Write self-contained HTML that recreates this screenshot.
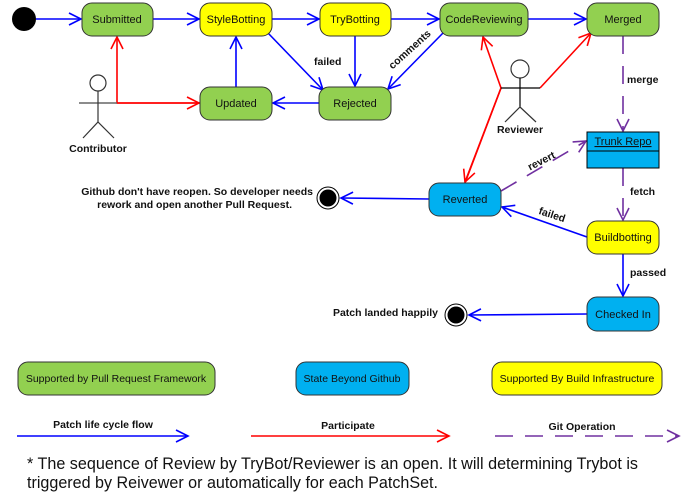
<!DOCTYPE html>
<html><head><meta charset="utf-8"><style>
body{margin:0;background:#fff;}
svg{display:block;font-family:"Liberation Sans",sans-serif;}
.b{fill:none;stroke:#00f;stroke-width:1.6}
.r{fill:none;stroke:#f00;stroke-width:1.6}
.p{fill:none;stroke:#7030a0;stroke-width:1.6;stroke-dasharray:18,12}
.st{stroke:#333;stroke-width:1}
.t{font-size:11px;text-anchor:middle;fill:#111}
.l{font-size:10.5px;font-weight:bold;fill:#111}
</style></head><body>
<svg width="691" height="500" viewBox="0 0 691 500">
<defs>
<marker id="ab" markerWidth="16" markerHeight="16" refX="13" refY="7" orient="auto" markerUnits="userSpaceOnUse"><path d="M1,1 L13,7 L1,13" fill="none" stroke="#00f" stroke-width="1.6"/></marker>
<marker id="ar" markerWidth="16" markerHeight="16" refX="13" refY="7" orient="auto" markerUnits="userSpaceOnUse"><path d="M1,1 L13,7 L1,13" fill="none" stroke="#f00" stroke-width="1.6"/></marker>
<marker id="ap" markerWidth="16" markerHeight="16" refX="13" refY="7" orient="auto" markerUnits="userSpaceOnUse"><path d="M1,1 L13,7 L1,13" fill="none" stroke="#7030a0" stroke-width="1.6"/></marker>
</defs>
<line class="b" x1="36" y1="19" x2="81" y2="19" marker-end="url(#ab)"/>
<line class="b" x1="153" y1="19" x2="199" y2="19" marker-end="url(#ab)"/>
<line class="b" x1="272" y1="19" x2="319" y2="19" marker-end="url(#ab)"/>
<line class="b" x1="391" y1="19" x2="439" y2="19" marker-end="url(#ab)"/>
<line class="b" x1="528" y1="19" x2="586" y2="19" marker-end="url(#ab)"/>
<line class="b" x1="268" y1="33" x2="323" y2="90" marker-end="url(#ab)"/>
<line class="b" x1="355" y1="36" x2="355" y2="86" marker-end="url(#ab)"/>
<line class="b" x1="443" y1="33" x2="388" y2="89" marker-end="url(#ab)"/>
<line class="b" x1="319" y1="103" x2="273" y2="103" marker-end="url(#ab)"/>
<line class="b" x1="236" y1="87" x2="236" y2="37" marker-end="url(#ab)"/>
<line class="b" x1="429" y1="199" x2="341" y2="198" marker-end="url(#ab)"/>
<line class="b" x1="587" y1="237" x2="502" y2="207" marker-end="url(#ab)"/>
<line class="b" x1="623" y1="254" x2="623" y2="296" marker-end="url(#ab)"/>
<line class="b" x1="587" y1="314" x2="469" y2="315" marker-end="url(#ab)"/>
<polyline class="r" points="200,103 117,103 117,37" marker-end="url(#ar)"/>
<line class="r" x1="117" y1="103" x2="199" y2="103" marker-end="url(#ar)"/>
<polyline class="r" points="465,183 501,88 483,37" marker-end="url(#ar)"/>
<line class="r" x1="501" y1="88" x2="465" y2="182" marker-end="url(#ar)"/>
<line class="r" x1="540" y1="88" x2="591" y2="33" marker-end="url(#ar)"/>
<line class="p" x1="623" y1="36" x2="623" y2="131" marker-end="url(#ap)"/>
<line class="p" x1="623" y1="168" x2="623" y2="220" marker-end="url(#ap)"/>
<line class="p" x1="501" y1="191" x2="586" y2="141" marker-end="url(#ap)"/>
<text class="l" x="314" y="65">failed</text>
<text class="l" x="412" y="52" text-anchor="middle" transform="rotate(-42 412 52)">comments</text>
<text class="l" x="627" y="83">merge</text>
<text class="l" x="630" y="195">fetch</text>
<text class="l" x="630" y="276">passed</text>
<text class="l" x="543" y="164" text-anchor="middle" transform="rotate(-27 543 164)">revert</text>
<text class="l" x="551" y="218" text-anchor="middle" transform="rotate(18 551 218)">failed</text>
<text class="l" x="313" y="195" text-anchor="end">Github don't have reopen. So developer needs</text>
<text class="l" x="292" y="208" text-anchor="end">rework and open another Pull Request.</text>
<text class="l" x="438" y="316" text-anchor="end">Patch landed happily</text>
<circle cx="24" cy="19" r="12" fill="#000"/>
<circle cx="328" cy="198" r="11" fill="#fff" stroke="#000"/><circle cx="328" cy="198" r="8.5" fill="#000"/>
<circle cx="456" cy="315" r="11" fill="#fff" stroke="#000"/><circle cx="456" cy="315" r="8.5" fill="#000"/>
<g class="st">
<rect x="82" y="3" width="71" height="33" rx="10" fill="#92d050"/>
<rect x="200" y="3" width="72" height="33" rx="10" fill="#ffff00"/>
<rect x="320" y="3" width="71" height="33" rx="10" fill="#ffff00"/>
<rect x="440" y="3" width="88" height="33" rx="10" fill="#92d050"/>
<rect x="587" y="3" width="72" height="33" rx="10" fill="#92d050"/>
<rect x="200" y="87" width="72" height="33" rx="10" fill="#92d050"/>
<rect x="319" y="87" width="72" height="33" rx="10" fill="#92d050"/>
<rect x="429" y="183" width="72" height="33" rx="10" fill="#00b0f0"/>
<rect x="587" y="221" width="72" height="33" rx="10" fill="#ffff00"/>
<rect x="587" y="297" width="72" height="34" rx="10" fill="#00b0f0"/>
<rect x="18" y="362" width="197" height="33" rx="10" fill="#92d050"/>
<rect x="296" y="362" width="113" height="33" rx="10" fill="#00b0f0"/>
<rect x="492" y="362" width="170" height="33" rx="10" fill="#ffff00"/>
</g>
<rect x="587" y="132" width="72" height="36" fill="#00b0f0" stroke="#000"/>
<line x1="587" y1="151" x2="659" y2="151" stroke="#000"/>
<text class="t" x="623" y="145" text-decoration="underline">Trunk Repo</text>
<text class="t" x="117" y="23">Submitted</text>
<text class="t" x="236" y="23">StyleBotting</text>
<text class="t" x="355" y="23">TryBotting</text>
<text class="t" x="484" y="23">CodeReviewing</text>
<text class="t" x="623" y="23">Merged</text>
<text class="t" x="236" y="107">Updated</text>
<text class="t" x="355" y="107">Rejected</text>
<text class="t" x="465" y="203">Reverted</text>
<text class="t" x="623" y="241">Buildbotting</text>
<text class="t" x="623" y="318">Checked In</text>
<text class="t" x="116" y="382" style="font-size:10.5px">Supported by Pull Request Framework</text>
<text class="t" x="352" y="382" style="font-size:10.5px">State Beyond Github</text>
<text class="t" x="577" y="382" style="font-size:10.5px">Supported By Build Infrastructure</text>
<g stroke="#333" stroke-width="1.2" fill="#fff">
<circle cx="98" cy="83" r="8"/>
<line x1="79" y1="103" x2="117" y2="103" stroke="#666" stroke-width="1.6"/>
<line x1="98" y1="91" x2="98" y2="122"/>
<polyline points="83,138 98,122 114,138" fill="none"/>
<circle cx="520" cy="69" r="9"/>
<line x1="501" y1="88" x2="540" y2="88" stroke="#000"/>
<line x1="520" y1="78" x2="520" y2="107" stroke="#000"/>
<polyline points="505,122 520,107 536,122" fill="none"/>
</g>
<text class="l" x="98" y="152" text-anchor="middle">Contributor</text>
<text class="l" x="520" y="133" text-anchor="middle">Reviewer</text>
<line class="b" x1="17" y1="436" x2="188" y2="436" marker-end="url(#ab)"/>
<line class="r" x1="251" y1="436" x2="449" y2="436" marker-end="url(#ar)"/>
<line class="p" x1="495" y1="436" x2="679" y2="436" marker-end="url(#ap)"/>
<text class="l" x="103" y="428" text-anchor="middle">Patch life cycle flow</text>
<text class="l" x="348" y="429" text-anchor="middle">Participate</text>
<text class="l" x="582" y="430" text-anchor="middle">Git Operation</text>
<text x="27" y="469" style="font-size:17px" fill="#111" textLength="611" lengthAdjust="spacingAndGlyphs">* The sequence of Review by TryBot/Reviewer is an open. It will determining Trybot is</text>
<text x="27" y="488" style="font-size:17px" fill="#111" textLength="411" lengthAdjust="spacingAndGlyphs">triggered by Reivewer or automatically for each PatchSet.</text>
</svg>
</body></html>
